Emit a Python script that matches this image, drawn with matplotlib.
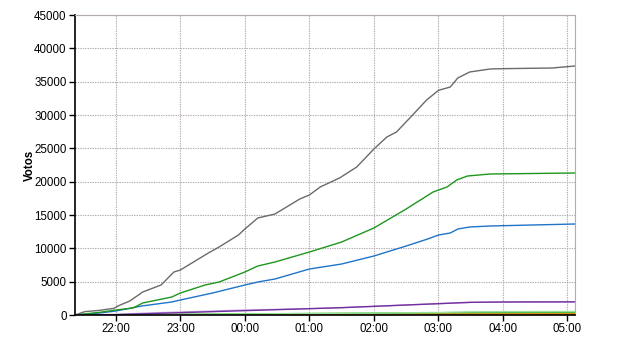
import matplotlib
matplotlib.use("Agg")
import matplotlib.pyplot as plt
import pandas as pd

plt.rcParams['font.family'] = ['Liberation Sans', 'DejaVu Sans']

def to_dt(times):
    out = []
    for t in times:
        h = int(t.split(':')[0])
        day = '2020-01-01' if h >= 12 else '2020-01-02'
        out.append(pd.Timestamp(day + ' ' + t))
    return out

grey_t = ["21:22", "21:31", "21:45", "21:58", "22:04", "22:13", "22:25", "22:42", "22:54", "23:00",
          "23:26", "23:36", "23:54", "00:00", "00:12", "00:28", "00:51", "01:00", "01:10", "01:28",
          "01:44", "02:00", "02:12", "02:21", "02:36", "02:49", "03:00", "03:11", "03:18", "03:29",
          "03:48", "04:00", "04:46", "05:07"]
grey_v = [0, 500, 700, 1000, 1500, 2100, 3450, 4500, 6450, 6750,
          9300, 10200, 12000, 12900, 14550, 15150, 17400, 18000, 19200, 20550,
          22200, 24900, 26700, 27450, 30000, 32250, 33700, 34200, 35550, 36450,
          36900, 36950, 37050, 37350]

green_t = ["21:22", "21:45", "22:00", "22:16", "22:25", "22:52", "23:00", "23:23", "23:36", "00:00",
           "00:12", "00:28", "01:00", "01:30", "02:00", "02:30", "02:55", "03:08", "03:17", "03:27",
           "03:48", "05:07"]
green_v = [0, 400, 750, 1050, 1800, 2700, 3300, 4500, 4950, 6450,
           7350, 7950, 9450, 10950, 13050, 15900, 18450, 19200, 20250, 20850,
           21150, 21300]

blue_t = ["21:22", "21:45", "22:00", "22:24", "22:52", "23:00", "23:30", "00:00", "00:12", "00:28",
          "01:00", "01:30", "02:00", "02:30", "02:50", "03:00", "03:11", "03:18", "03:29", "03:48",
          "05:07"]
blue_v = [0, 300, 600, 1350, 1950, 2250, 3300, 4500, 4950, 5400,
          6900, 7650, 8850, 10350, 11400, 12000, 12300, 12900, 13200, 13350,
          13650]

small_t = ["21:22", "22:00", "22:30", "23:00", "23:30", "00:00", "00:30", "01:00", "01:30", "02:00",
           "02:30", "03:00", "03:30", "04:00", "05:07"]
purple_v = [0, 50, 200, 350, 500, 650, 800, 950, 1100, 1300, 1500, 1700, 1900, 1950, 1970]
lilac_v = [0, 100, 300, 450, 600, 750, 850, 950, 1100, 1300, 1500, 1700, 1900, 1950, 1970]
lime_v = [0, 50, 80, 110, 140, 170, 200, 230, 260, 290, 330, 380, 480, 500, 520]
dgreen_v = [0, 40, 70, 100, 130, 160, 190, 220, 250, 280, 310, 340, 360, 370, 380]
orange_v = [0, 20, 40, 60, 80, 100, 110, 120, 130, 140, 150, 160, 170, 180, 190]
red_v = [0, 5, 10, 15, 20, 25, 30, 35, 40, 45, 50, 55, 60, 60, 60]

ytick_vals = [0, 5000, 10000, 15000, 20000, 25000, 30000, 35000, 40000, 45000]
xtick_labels = ["22:00", "23:00", "00:00", "01:00", "02:00", "03:00", "04:00", "05:00"]

fig = plt.figure(figsize=(6.4, 3.5), dpi=100)
ax = fig.add_axes([75/640, 35/350, 500/640, 300/350])

st = to_dt(small_t)
ax.plot(st, red_v, color='#e02020', lw=1.0)
ax.plot(st, orange_v, color='#ff8c00', lw=1.0)
ax.plot(st, dgreen_v, color='#30b030', lw=1.0)
ax.plot(st, lime_v, color='#98e098', lw=1.0)
ax.plot(st, lilac_v, color='#c8a8dc', lw=1.0)
ax.plot(st, purple_v, color='#7030a0', lw=1.0)
ax.plot(to_dt(blue_t), blue_v, color='#1f74c8', lw=1.0)
ax.plot(to_dt(green_t), green_v, color='#1e961e', lw=1.0)
ax.plot(to_dt(grey_t), grey_v, color='#6a6a6a', lw=1.0)

x0, x1 = to_dt(["21:22", "05:07"])
ax.set_xlim(x0, x1)
ax.set_ylim(0, 45000)
ax.set_yticks(ytick_vals)
ax.set_yticklabels([str(v) for v in ytick_vals])
ax.set_xticks(to_dt(xtick_labels))
ax.set_xticklabels(xtick_labels)

gc = '#b4aab4'
ax.grid(True, color=gc, linestyle=(0, (1.2, 1)), linewidth=0.8)
ax.set_axisbelow(True)
for s in ['top', 'right']:
    ax.spines[s].set_color(gc)
    ax.spines[s].set_linestyle((0, (1.2, 1)))
    ax.spines[s].set_linewidth(0.8)
for s in ['left', 'bottom']:
    ax.spines[s].set_color('black')
    ax.spines[s].set_linewidth(1.2)
ax.tick_params(axis='both', direction='out', length=4, width=1, labelsize=8.3, colors='black', pad=2)
ax.set_ylabel('Votos', fontsize=8.3, fontweight='bold')
ax.yaxis.set_label_coords(-0.078, 0.5)

fig.savefig('out.png', dpi=100)
